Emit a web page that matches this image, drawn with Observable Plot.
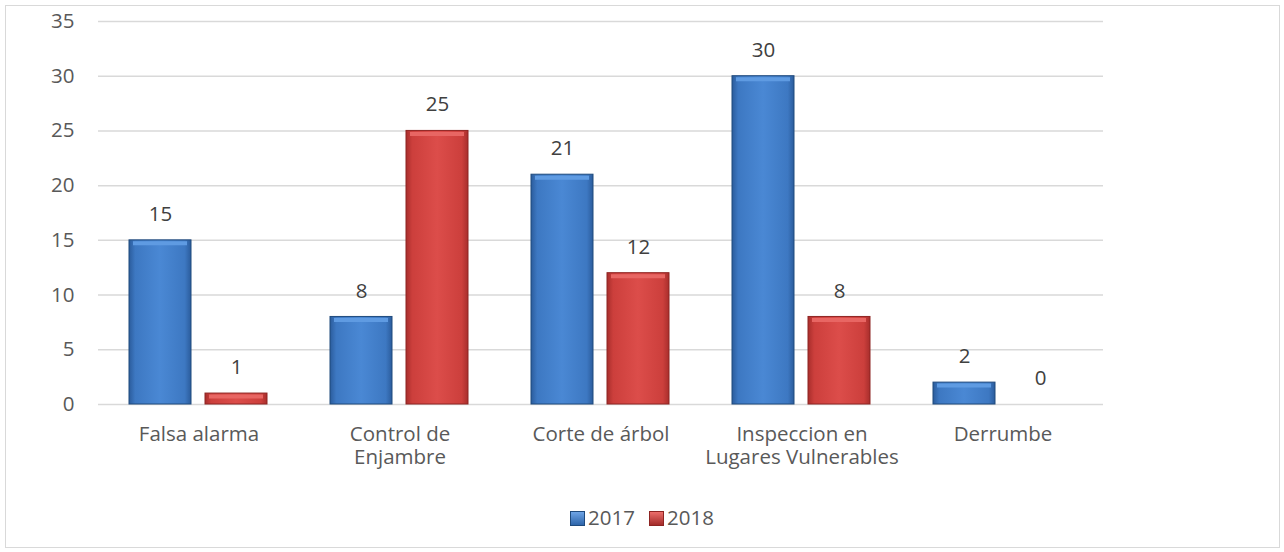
<!DOCTYPE html>
<html>
<head>
<meta charset="utf-8">
<script src="https://cdn.jsdelivr.net/npm/d3@7"></script>
<script src="https://cdn.jsdelivr.net/npm/@observablehq/plot@0.6"></script>
<style>
  html, body { margin: 0; padding: 0; background: #fff; }
  #wrap { position: relative; width: 1284px; height: 552px; font-family: "Open Sans", sans-serif; }
  #frame { position: absolute; left: 5px; top: 5px; width: 1273px; height: 541px; border: 1.5px solid #d9d9d9; pointer-events: none; }
  #chart { position: absolute; left: 0; top: 0; }
  #legend { position: absolute; left: 0; width: 1284px; top: 503px; text-align: center; font-size: 20.5px; color: #595959; }
  .sw { display: inline-block; width: 13px; height: 13px; vertical-align: -1px; margin-right: 3px; }
  .item { display: inline-block; margin: 0 7px; }
</style>
</head>
<body>
<div id="wrap">
  <div id="chart"></div>
  <div id="frame"></div>
  <div id="legend"></div>
</div>
<script>
const categories = ["Falsa alarma", "Control de\nEnjambre", "Corte de árbol", "Inspeccion en\nLugares Vulnerables", "Derrumbe"];
const years = ["2017", "2018"];
const values2017 = [15, 8, 21, 30, 2];
const values2018 = [1, 25, 12, 8, 0];
const yTicks = [0, 5, 10, 15, 20, 25, 30, 35];

const data = [];
categories.forEach((c, i) => {
  data.push({cat: c, year: "2017", v: values2017[i]});
  data.push({cat: c, year: "2018", v: values2018[i]});
});

const fills = {"2017": "url(#g2017)", "2018": "url(#g2018)"};
const tops = {"2017": "#5f9be2", "2018": "#e86663"};
const FS = 20.5;

const chart = Plot.plot({
  width: 1284,
  height: 552,
  marginLeft: 96,
  marginRight: 179,
  marginTop: 21,
  marginBottom: 148,
  style: {fontFamily: "'Open Sans', sans-serif", fontSize: FS + "px", color: "#595959", background: "transparent"},
  fx: {domain: categories, padding: 0, label: null, axis: null},
  x: {domain: years, paddingInner: 0.18, paddingOuter: 0.4, axis: null},
  y: {domain: [0, 35], ticks: yTicks, label: null, grid: false},
  marks: [
    Plot.ruleY(yTicks, {stroke: "#d9d9d9", strokeWidth: 1.5}),
    Plot.axisY({ticks: yTicks, tickSize: 0, tickPadding: 24, label: null, fontSize: FS, fill: "#595959"}),
    Plot.axisFx({anchor: "bottom", domain: categories, tickSize: 0, tickPadding: 20, label: null, fontSize: FS, fill: "#595959", lineHeight: 1.12}),
    Plot.barY(data, {fx: "cat", x: "year", y: "v", fill: d => fills[d.year], stroke: d => d.year === "2017" ? "#1f4a7d" : "#8e2422", strokeWidth: 1}),
    Plot.tickY(data.filter(d => d.v > 0), {fx: "cat", x: "year", y: "v", dy: 3, stroke: d => tops[d.year], strokeWidth: 4, insetLeft: 4, insetRight: 4}),
    Plot.text(data, {fx: "cat", x: "year", y: "v", text: d => String(d.v), dy: -26, fontSize: FS, fill: "#404040"})
  ]
});

// gradient definitions
const svg = d3.select(chart);
const defs = svg.insert("defs", ":first-child");
function grad(id, edge, mid, light) {
  const g = defs.append("linearGradient").attr("id", id).attr("x1", "0").attr("x2", "1").attr("y1", "0").attr("y2", "0");
  g.append("stop").attr("offset", "0%").attr("stop-color", edge);
  g.append("stop").attr("offset", "10%").attr("stop-color", mid);
  g.append("stop").attr("offset", "50%").attr("stop-color", light);
  g.append("stop").attr("offset", "90%").attr("stop-color", mid);
  g.append("stop").attr("offset", "100%").attr("stop-color", edge);
}
grad("g2017", "#2b5c9c", "#3d78c2", "#4a88d4");
grad("g2018", "#a82e2c", "#cc3f3c", "#dc4d4a");
document.getElementById("chart").appendChild(chart);

const legend = document.getElementById("legend");
const colors = {"2017": "linear-gradient(180deg,#6ea4e6,#2e65aa)", "2018": "linear-gradient(180deg,#ec6e6b,#a32b29)"};
years.forEach(y => {
  const s = document.createElement("span");
  s.className = "item";
  s.innerHTML = `<span class="sw" style="background:${colors[y]};border:1px solid ${y === "2017" ? "#1f4a7d" : "#8e2422"}"></span>${y}`;
  legend.appendChild(s);
});
</script>
</body>
</html>
